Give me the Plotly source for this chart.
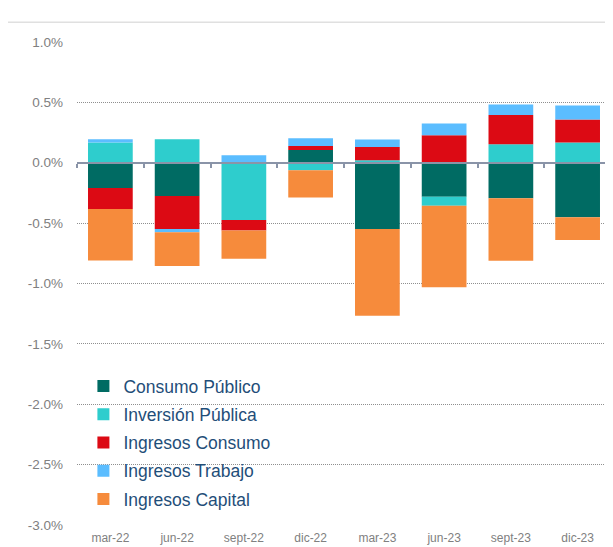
import plotly.graph_objects as go

categories = ["mar-22", "jun-22", "sept-22", "dic-22", "mar-23", "jun-23", "sept-23", "dic-23"]

consumo_publico = [-0.21, -0.276, 0.0, 0.106, -0.548, -0.282, -0.295, -0.452]
inversion_publica = [0.167, 0.194, -0.474, -0.062, 0.02, -0.074, 0.153, 0.167]
ingresos_consumo = [-0.173, -0.272, -0.088, 0.033, 0.11, 0.227, 0.242, 0.192]
ingresos_trabajo = [0.027, -0.027, 0.062, 0.063, 0.063, 0.099, 0.088, 0.115]
ingresos_capital = [-0.426, -0.28, -0.233, -0.225, -0.72, -0.676, -0.517, -0.187]

series_names = ["Consumo Público", "Inversión Pública", "Ingresos Consumo", "Ingresos Trabajo", "Ingresos Capital"]
series_values = [consumo_publico, inversion_publica, ingresos_consumo, ingresos_trabajo, ingresos_capital]
series_colors = ["#006B63", "#2ECDCD", "#DC0A14", "#5BBDFF", "#F68B3C"]

y_tick_values = [1.0, 0.5, 0.0, -0.5, -1.0, -1.5, -2.0, -2.5, -3.0]
y_tick_labels = ["1.0%", "0.5%", "0.0%", "-0.5%", "-1.0%", "-1.5%", "-2.0%", "-2.5%", "-3.0%"]

fig = go.Figure()
for name, vals, col in zip(series_names, series_values, series_colors):
    fig.add_trace(go.Bar(x=categories, y=vals, name=name, legendgroup=name,
                         marker=dict(color=col, line=dict(width=0))))

# invisible trace to hold the zero-line axis with boundary ticks
fig.add_trace(go.Scatter(x=[-0.5, len(categories) - 0.5], y=[0, 0], xaxis="x2", mode="lines",
                         line=dict(width=0), showlegend=False, hoverinfo="skip"))

fig.update_layout(
    barmode="relative",
    bargap=0.33,
    width=605, height=539,
    margin=dict(l=69, r=2, t=34, b=20),
    plot_bgcolor="white", paper_bgcolor="white",
    font=dict(family="Liberation Sans, Arial, sans-serif"),
    legend=dict(x=0.012, y=0.325, xanchor="left", yanchor="top", traceorder="grouped",
                font=dict(size=17.5, color="#1F4E79"), bgcolor="rgba(0,0,0,0)",
                itemwidth=30, tracegroupgap=2.5, itemsizing="constant"),
    xaxis=dict(type="category", showline=False, showgrid=False, ticks="",
               tickfont=dict(size=12, color="#808080"), range=[-0.5, 7.5],
               ticklabelstandoff=4),
    xaxis2=dict(overlaying="x", anchor="free", position=0.75, range=[-0.5, 7.5],
                showline=True, linecolor="#8A94A8", linewidth=2,
                ticks="outside", ticklen=4, tickwidth=1.5, tickcolor="#8A94A8",
                tickvals=[i - 0.5 for i in range(len(categories) + 1)],
                showticklabels=False, showgrid=False, zeroline=False, side="bottom"),
    yaxis=dict(range=[-3.0, 1.0], tickvals=y_tick_values, ticktext=y_tick_labels,
               tickfont=dict(size=13.5, color="#808080"), showgrid=True, gridcolor="#8f8f8f",
               griddash="1px,1px", gridwidth=1, zeroline=False, showline=False, ticks="",
               ticklabelstandoff=13),
    shapes=[dict(type="line", xref="paper", yref="paper", x0=-0.13, x1=1.01, y0=1.041, y1=1.041,
                 line=dict(color="#e0e0e0", width=1.5))],
)

fig.write_html("out.html")
